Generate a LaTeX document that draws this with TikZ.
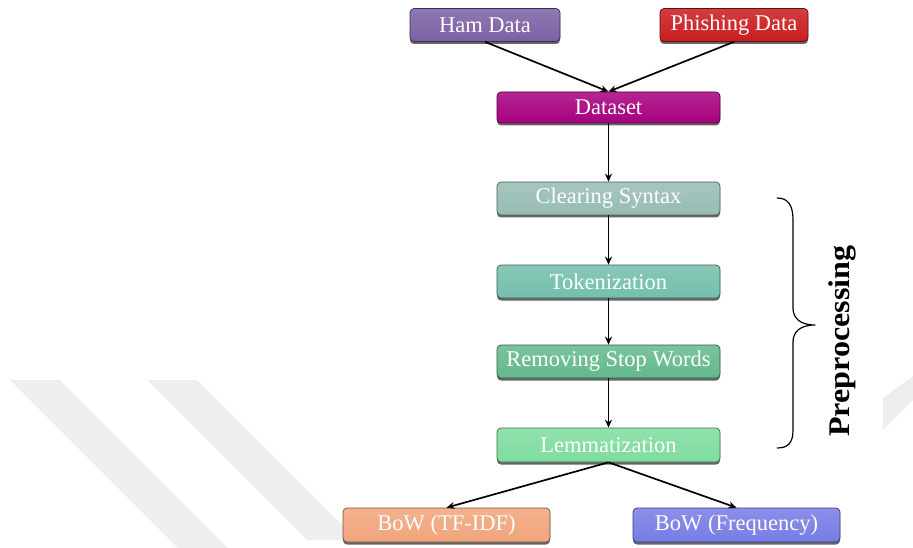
\documentclass[tikz,border=0pt]{standalone}
\usepackage{fontspec}
\setmainfont{Liberation Serif}
\usetikzlibrary{arrows.meta,shadows}

\definecolor{hamc}{HTML}{7C60A4}
\definecolor{phishc}{HTML}{C91C1E}
\definecolor{datac}{HTML}{A6007E}
\definecolor{clearc}{HTML}{96BCB3}
\definecolor{tokc}{HTML}{74BEAC}
\definecolor{stopc}{HTML}{63B98B}
\definecolor{lemc}{HTML}{7EDC9E}
\definecolor{tfidfc}{HTML}{F0A47B}
\definecolor{freqc}{HTML}{777CE4}
\definecolor{markc}{HTML}{EEEEEE}

\tikzset{
  flowbox/.style={
    rounded corners=4pt, draw=#1!50!black, line width=0.7pt,
    top color=#1!85!white, bottom color=#1, text=white,
    inner sep=0pt, minimum height=33pt,
    font=\fontsize{22.5}{25}\selectfont,
    drop shadow={shadow xshift=0pt, shadow yshift=-2.5pt, opacity=0.6, fill=black}},
  flowarrow/.style={line width=1.7pt, -{Stealth[length=8pt,width=7pt]}},
  bracepath/.style={line width=1.2pt, line join=round},
}

\begin{document}
\begin{tikzpicture}[x=1pt,y=-1pt]
\useasboundingbox (0,0) rectangle (913,548);

% faint background bands
\fill[markc] (10,380) -- (60,380) -- (228,548) -- (178,548) -- cycle;
\fill[markc] (147,380) -- (197,380) -- (350,533) -- (350,540) -- (307,540) -- cycle;
\fill[markc] (883,398) -- (913,376) -- (913,400) -- (883,430) -- cycle;

% boxes
\node[flowbox=hamc,   minimum width=150pt] (ham)   at (485,25)    {Ham Data};
\node[flowbox=phishc, minimum width=148pt] (phish) at (734,25)    {Phishing Data};
\node[flowbox=datac,  minimum width=223pt, minimum height=31pt] (data) at (608.5,107.5) {Dataset};
\node[flowbox=clearc, minimum width=223pt] (clear) at (608.5,198.5) {Clearing Syntax};
\node[flowbox=tokc,   minimum width=223pt] (tok)   at (608.5,281.5) {Tokenization};
\node[flowbox=stopc,  minimum width=223pt] (stop)  at (608.5,361.5) {Removing Stop Words};
\node[flowbox=lemc,   minimum width=223pt, minimum height=34pt] (lem) at (608.5,445) {Lemmatization};
\node[flowbox=tfidfc, minimum width=207pt, minimum height=34pt] (tfidf) at (446.5,525) {BoW (TF-IDF)};
\node[flowbox=freqc,  minimum width=207pt, minimum height=34pt] (freq)  at (736.5,525) {BoW (Frequency)};

% connectors
\draw[flowarrow] (ham.south) -- (data.north);
\draw[flowarrow] (phish.south) -- (data.north);
\draw[flowarrow] (data) -- (clear);
\draw[flowarrow] (clear) -- (tok);
\draw[flowarrow] (tok) -- (stop);
\draw[flowarrow] (stop) -- (lem);
\draw[flowarrow] (lem.south) -- (tfidf.north);
\draw[flowarrow] (lem.south) -- (freq.north);

% brace around the preprocessing steps
\coordinate (bt) at (777,198);
\coordinate (bb) at (777,448);
\draw[bracepath] (bt) .. controls (788,198) and (793,205) .. (793,220)
  -- (793,308) .. controls (793,318) and (800,325) .. (815,325)
  .. controls (800,325) and (793,332) .. (793,342)
  -- (793,430) .. controls (793,443) and (788,448) .. (bb);

\node[rotate=90, font=\bfseries\fontsize{30}{32}\selectfont, xscale=1.07] (pre) at (842,341) {Preprocessing};
\end{tikzpicture}
\end{document}
